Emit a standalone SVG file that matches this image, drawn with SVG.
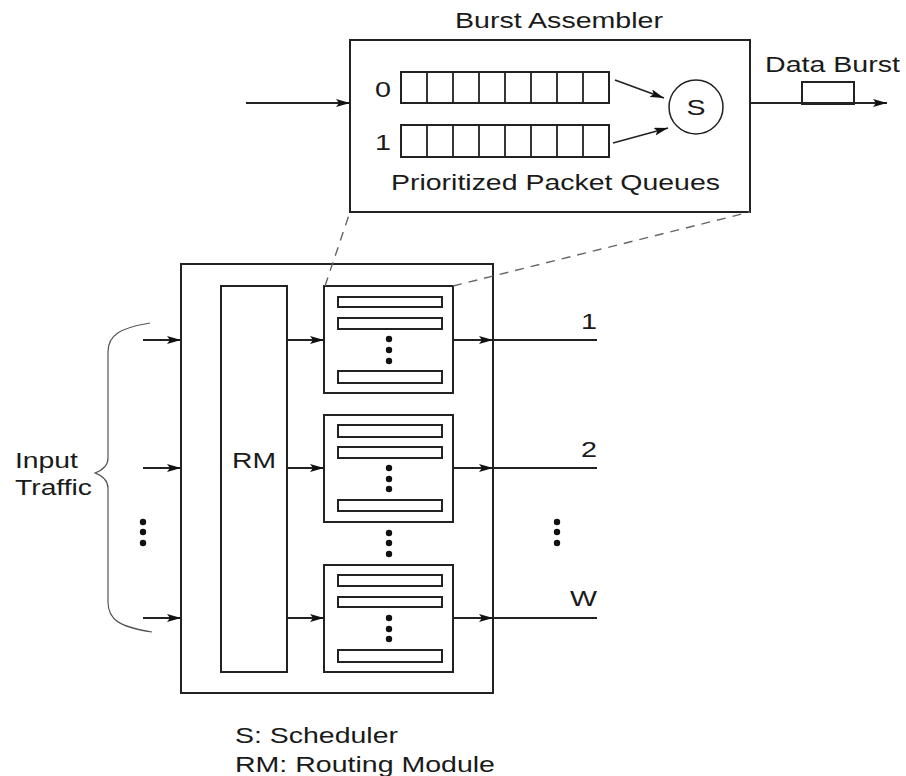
<svg xmlns="http://www.w3.org/2000/svg" width="906" height="776" viewBox="0 0 906 776">
<defs>
<marker id="arr" viewBox="0 0 14 8" refX="14" refY="4" markerWidth="14" markerHeight="8" markerUnits="userSpaceOnUse" orient="auto">
<path d="M0,0 L14,4 L0,8 L3,4 Z" fill="#111"/>
</marker>
</defs>
<style>
.box{fill:#fff;stroke:#222;stroke-width:2}
.bar{fill:#fff;stroke:#222;stroke-width:2}
.ln{stroke:#222;stroke-width:1.8;fill:none}
.dash{stroke:#666;stroke-width:1.4;stroke-dasharray:9 7;fill:none}
.t{font-family:"Liberation Sans",Arial,sans-serif;font-size:22px;fill:#1a1a1a}
.dot{fill:#111}
</style>
<rect width="906" height="776" fill="#fff"/>

<g id="burst-assembler">
<rect class="box" x="350" y="40" width="400" height="172"/>
<text class="t" x="455" y="28" textLength="208" lengthAdjust="spacingAndGlyphs">Burst Assembler</text>
<g id="queue0">
<rect class="bar" x="401" y="72" width="208" height="31"/>
<path class="ln" d="M427,72V103M453,72V103M479,72V103M505,72V103M531,72V103M557,72V103M583,72V103"/>
<text class="t" x="383" y="97" text-anchor="middle" textLength="16" lengthAdjust="spacingAndGlyphs">0</text>
</g>
<g id="queue1">
<rect class="bar" x="401" y="125" width="208" height="32"/>
<path class="ln" d="M427,125V157M453,125V157M479,125V157M505,125V157M531,125V157M557,125V157M583,125V157"/>
<text class="t" x="383" y="150" text-anchor="middle" textLength="16" lengthAdjust="spacingAndGlyphs">1</text>
</g>
<g id="scheduler">
<circle cx="696" cy="107" r="27" fill="#fff" stroke="#222" stroke-width="1.5"/>
<text class="t" x="696" y="115" text-anchor="middle" textLength="19" lengthAdjust="spacingAndGlyphs">S</text>
</g>
<text class="t" x="391" y="190" textLength="329" lengthAdjust="spacingAndGlyphs">Prioritized Packet Queues</text>
</g>

<g id="data-burst">
<text class="t" x="765" y="72" textLength="135" lengthAdjust="spacingAndGlyphs">Data Burst</text>
<rect class="bar" x="802" y="82" width="52" height="22"/>
</g>

<g id="switch">
<rect class="box" x="181" y="264" width="312" height="429"/>
</g>

<g id="rm">
<rect class="box" x="221" y="286" width="66" height="386"/>
<text class="t" x="254" y="468" text-anchor="middle" textLength="44" lengthAdjust="spacingAndGlyphs">RM</text>
</g>

<g id="ba1">
<rect class="box" x="324" y="286" width="129" height="107"/>
<rect class="bar" x="338" y="297" width="104" height="10"/>
<rect class="bar" x="338" y="318" width="104" height="11"/>
<rect class="bar" x="338" y="371" width="104" height="12"/>
<circle class="dot" cx="389" cy="339" r="3.2"/><circle class="dot" cx="389" cy="350" r="3.2"/><circle class="dot" cx="389" cy="361" r="3.2"/>
</g>
<g id="ba2">
<rect class="box" x="324" y="415" width="129" height="107"/>
<rect class="bar" x="338" y="425" width="104" height="12"/>
<rect class="bar" x="338" y="447" width="104" height="11"/>
<rect class="bar" x="338" y="500" width="104" height="11"/>
<circle class="dot" cx="389" cy="468" r="3.2"/><circle class="dot" cx="389" cy="479" r="3.2"/><circle class="dot" cx="389" cy="489" r="3.2"/>
</g>
<g id="between-dots">
<circle class="dot" cx="389" cy="533" r="3.2"/><circle class="dot" cx="389" cy="543" r="3.2"/><circle class="dot" cx="389" cy="554" r="3.2"/>
</g>
<g id="ba3">
<rect class="box" x="324" y="565" width="129" height="107"/>
<rect class="bar" x="338" y="575" width="104" height="11"/>
<rect class="bar" x="338" y="597" width="104" height="10"/>
<rect class="bar" x="338" y="650" width="104" height="12"/>
<circle class="dot" cx="389" cy="618" r="3.2"/><circle class="dot" cx="389" cy="629" r="3.2"/><circle class="dot" cx="389" cy="639" r="3.2"/>
</g>

<g id="outputs">
<text class="t" x="597" y="329" text-anchor="end" textLength="16" lengthAdjust="spacingAndGlyphs">1</text>
<text class="t" x="597" y="457" text-anchor="end" textLength="16" lengthAdjust="spacingAndGlyphs">2</text>
<text class="t" x="597" y="606" text-anchor="end" textLength="27" lengthAdjust="spacingAndGlyphs">W</text>
<circle class="dot" cx="557" cy="522" r="3.2"/><circle class="dot" cx="557" cy="532" r="3.2"/><circle class="dot" cx="557" cy="543" r="3.2"/>
</g>

<g id="input-traffic">
<path d="M150,323 C120,328 108,335 108,352 L108,458 C108,466 103,470 95,473 C103,476 108,480 108,488 L108,602 C108,620 120,627 152,632" fill="none" stroke="#555" stroke-width="1.2"/>
<text class="t" x="15" y="468" textLength="63" lengthAdjust="spacingAndGlyphs">Input</text>
<text class="t" x="15" y="495" textLength="77" lengthAdjust="spacingAndGlyphs">Traffic</text>
<circle class="dot" cx="143" cy="522" r="3.2"/><circle class="dot" cx="143" cy="532" r="3.2"/><circle class="dot" cx="143" cy="543" r="3.2"/>
</g>

<g id="legend">
<text class="t" x="235" y="743" textLength="163" lengthAdjust="spacingAndGlyphs">S: Scheduler</text>
<text class="t" x="235" y="772" textLength="260" lengthAdjust="spacingAndGlyphs">RM: Routing Module</text>
</g>

<g id="connectors">
<line class="ln" x1="246" y1="103" x2="350" y2="103" marker-end="url(#arr)"/>
<line class="ln" x1="750" y1="103" x2="887" y2="103" marker-end="url(#arr)"/>
<line class="ln" x1="615" y1="80" x2="664" y2="98" marker-end="url(#arr)"/>
<line class="ln" x1="613" y1="143" x2="668" y2="128" marker-end="url(#arr)"/>
<line class="dash" x1="325" y1="286" x2="350" y2="212"/>
<line class="dash" x1="453" y1="286" x2="750" y2="212"/>
<line class="ln" x1="143" y1="340" x2="181" y2="340" marker-end="url(#arr)"/>
<line class="ln" x1="143" y1="468" x2="181" y2="468" marker-end="url(#arr)"/>
<line class="ln" x1="143" y1="618" x2="181" y2="618" marker-end="url(#arr)"/>
<line class="ln" x1="287" y1="340" x2="324" y2="340" marker-end="url(#arr)"/>
<line class="ln" x1="287" y1="468" x2="324" y2="468" marker-end="url(#arr)"/>
<line class="ln" x1="287" y1="618" x2="324" y2="618" marker-end="url(#arr)"/>
<line class="ln" x1="453" y1="340" x2="493" y2="340" marker-end="url(#arr)"/>
<line class="ln" x1="453" y1="468" x2="493" y2="468" marker-end="url(#arr)"/>
<line class="ln" x1="453" y1="618" x2="493" y2="618" marker-end="url(#arr)"/>
<line class="ln" x1="493" y1="340" x2="597" y2="340"/>
<line class="ln" x1="493" y1="468" x2="597" y2="468"/>
<line class="ln" x1="493" y1="618" x2="597" y2="618"/>
</g>
</svg>
